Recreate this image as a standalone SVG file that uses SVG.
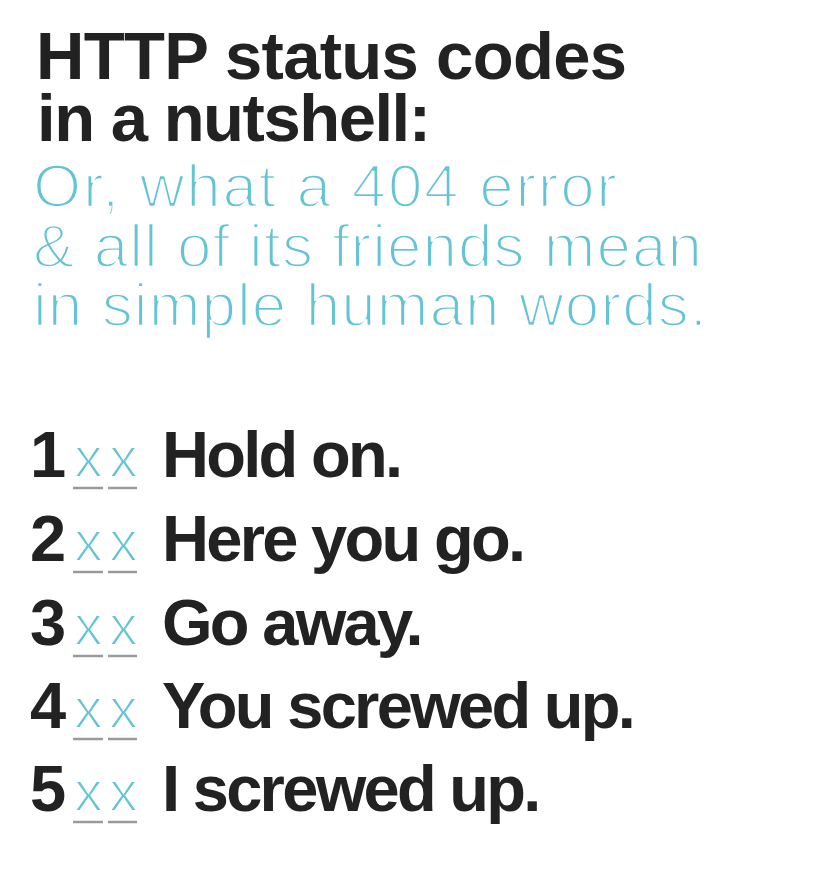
<svg xmlns="http://www.w3.org/2000/svg" width="830" height="886" viewBox="0 0 830 886">
<style>
.bg{fill:#ffffff}
.title{font-family:"Liberation Sans",Arial,sans-serif;font-weight:bold;font-size:67px;fill:#222222}
.sub{font-family:"Liberation Sans",Arial,sans-serif;font-weight:normal;font-size:62px;fill:#62c4d4;stroke:#ffffff;stroke-width:2.4px}
.num{font-family:"Liberation Sans",Arial,sans-serif;font-weight:bold;font-size:65px;fill:#222222}
.xx{font-family:"Liberation Sans",Arial,sans-serif;font-weight:normal;font-size:58px;fill:#62c4d4;stroke:#ffffff;stroke-width:2px}
.msg{font-family:"Liberation Sans",Arial,sans-serif;font-weight:bold;font-size:65px;fill:#222222;letter-spacing:-2.7px}
.ul{stroke:#9a9a9a;stroke-width:2.5;fill:none}
</style>
<rect class="bg" x="0" y="0" width="830" height="886"/>
<g id="heading">
<text class="title" x="36" y="79" textLength="591" lengthAdjust="spacing">HTTP status codes</text>
<text class="title" x="37" y="141" textLength="394" lengthAdjust="spacing">in a nutshell:</text>
</g>
<g id="subtitle">
<text class="sub" x="33" y="207" textLength="584" lengthAdjust="spacing">Or, what a 404 error</text>
<text class="sub" x="33" y="267" textLength="669" lengthAdjust="spacing">&amp; all of its friends mean</text>
<text class="sub" x="33" y="326" textLength="674" lengthAdjust="spacing">in simple human words.</text>
</g>
<g id="row1">
<text class="num" x="30" y="477">1</text>
<text class="xx" x="74" y="477" textLength="64" lengthAdjust="spacing">xx</text>
<line class="ul" x1="73" y1="488" x2="103" y2="488"/><line class="ul" x1="108" y1="488" x2="137" y2="488"/>
<text class="msg" x="162" y="477">Hold on.</text>
</g>
<g id="row2">
<text class="num" x="30" y="561">2</text>
<text class="xx" x="74" y="561" textLength="64" lengthAdjust="spacing">xx</text>
<line class="ul" x1="73" y1="572" x2="103" y2="572"/><line class="ul" x1="108" y1="572" x2="137" y2="572"/>
<text class="msg" x="162" y="561">Here you go.</text>
</g>
<g id="row3">
<text class="num" x="30" y="645">3</text>
<text class="xx" x="74" y="645" textLength="64" lengthAdjust="spacing">xx</text>
<line class="ul" x1="73" y1="656" x2="103" y2="656"/><line class="ul" x1="108" y1="656" x2="137" y2="656"/>
<text class="msg" x="162" y="645">Go away.</text>
</g>
<g id="row4">
<text class="num" x="30" y="728">4</text>
<text class="xx" x="74" y="728" textLength="64" lengthAdjust="spacing">xx</text>
<line class="ul" x1="73" y1="739" x2="103" y2="739"/><line class="ul" x1="108" y1="739" x2="137" y2="739"/>
<text class="msg" x="162" y="728">You screwed up.</text>
</g>
<g id="row5">
<text class="num" x="30" y="811">5</text>
<text class="xx" x="74" y="811" textLength="64" lengthAdjust="spacing">xx</text>
<line class="ul" x1="73" y1="822" x2="103" y2="822"/><line class="ul" x1="108" y1="822" x2="137" y2="822"/>
<text class="msg" x="162" y="811">I screwed up.</text>
</g>
</svg>
